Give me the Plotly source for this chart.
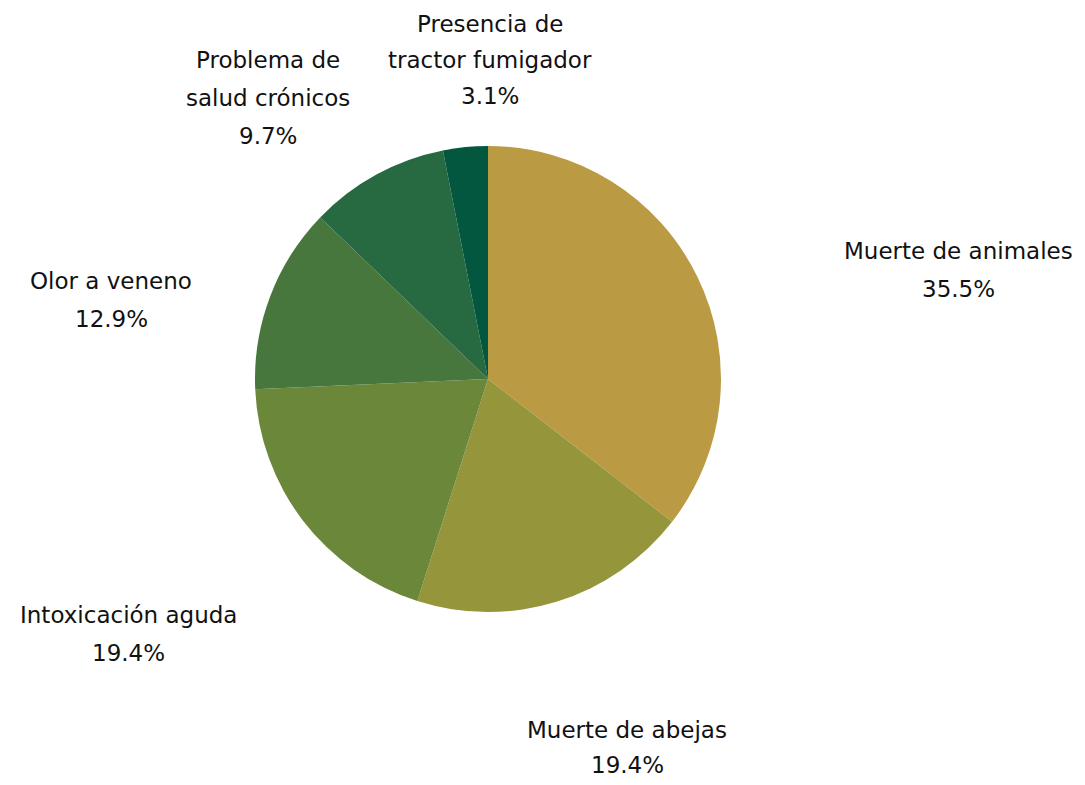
import plotly.graph_objects as go

labels = ["Muerte de animales", "Muerte de abejas", "Intoxicación aguda",
          "Olor a veneno", "Problema de salud crónicos", "Presencia de tractor fumigador"]
label_lines = [["Muerte de animales"], ["Muerte de abejas"], ["Intoxicación aguda"],
               ["Olor a veneno"], ["Problema de", "salud crónicos"],
               ["Presencia de", "tractor fumigador"]]
values = [35.5, 19.4, 19.4, 12.9, 9.7, 3.1]
colors = ["#BA9B44", "#95953B", "#6B8739", "#47773C", "#276940", "#03573F"]

OFF = 8  # page body margin
W, H = 1085 - 2 * OFF, 785 - 2 * OFF
# label block centre x, first-line y (screen pixels, from top-left), line gap
label_pos = [(958, 251, 38), (627, 730, 35), (128, 615, 38),
             (111, 281, 38), (268, 60, 38), (490, 24, 36)]

cx0, cy0, R = 488 - OFF, 379 - OFF, 233
fig = go.Figure(go.Pie(
    labels=labels, values=values, sort=False, direction="clockwise", rotation=0,
    marker=dict(colors=colors, line=dict(width=0)),
    textinfo="none", hoverinfo="label+percent",
    domain=dict(x=[(cx0 - R) / W, (cx0 + R) / W],
                y=[(H - cy0 - R) / H, (H - cy0 + R) / H]),
    showlegend=False,
))

total = sum(values)
annots = []
for lines, v, (cx, cy, gap) in zip(label_lines, values, label_pos):
    all_lines = lines + [f"{v / total * 100:.1f}%"]
    for i, t in enumerate(all_lines):
        annots.append(dict(
            text=t, x=(cx - OFF) / W, y=1 - (cy - OFF + i * gap) / H,
            xref="paper", yref="paper",
            showarrow=False, xanchor="center", yanchor="middle",
            font=dict(family="DejaVu Sans", size=23, color="#111111"),
        ))

fig.update_layout(
    width=W, height=H, margin=dict(l=0, r=0, t=0, b=0),
    paper_bgcolor="white", plot_bgcolor="white",
    annotations=annots,
)
fig.write_html("out.html")
